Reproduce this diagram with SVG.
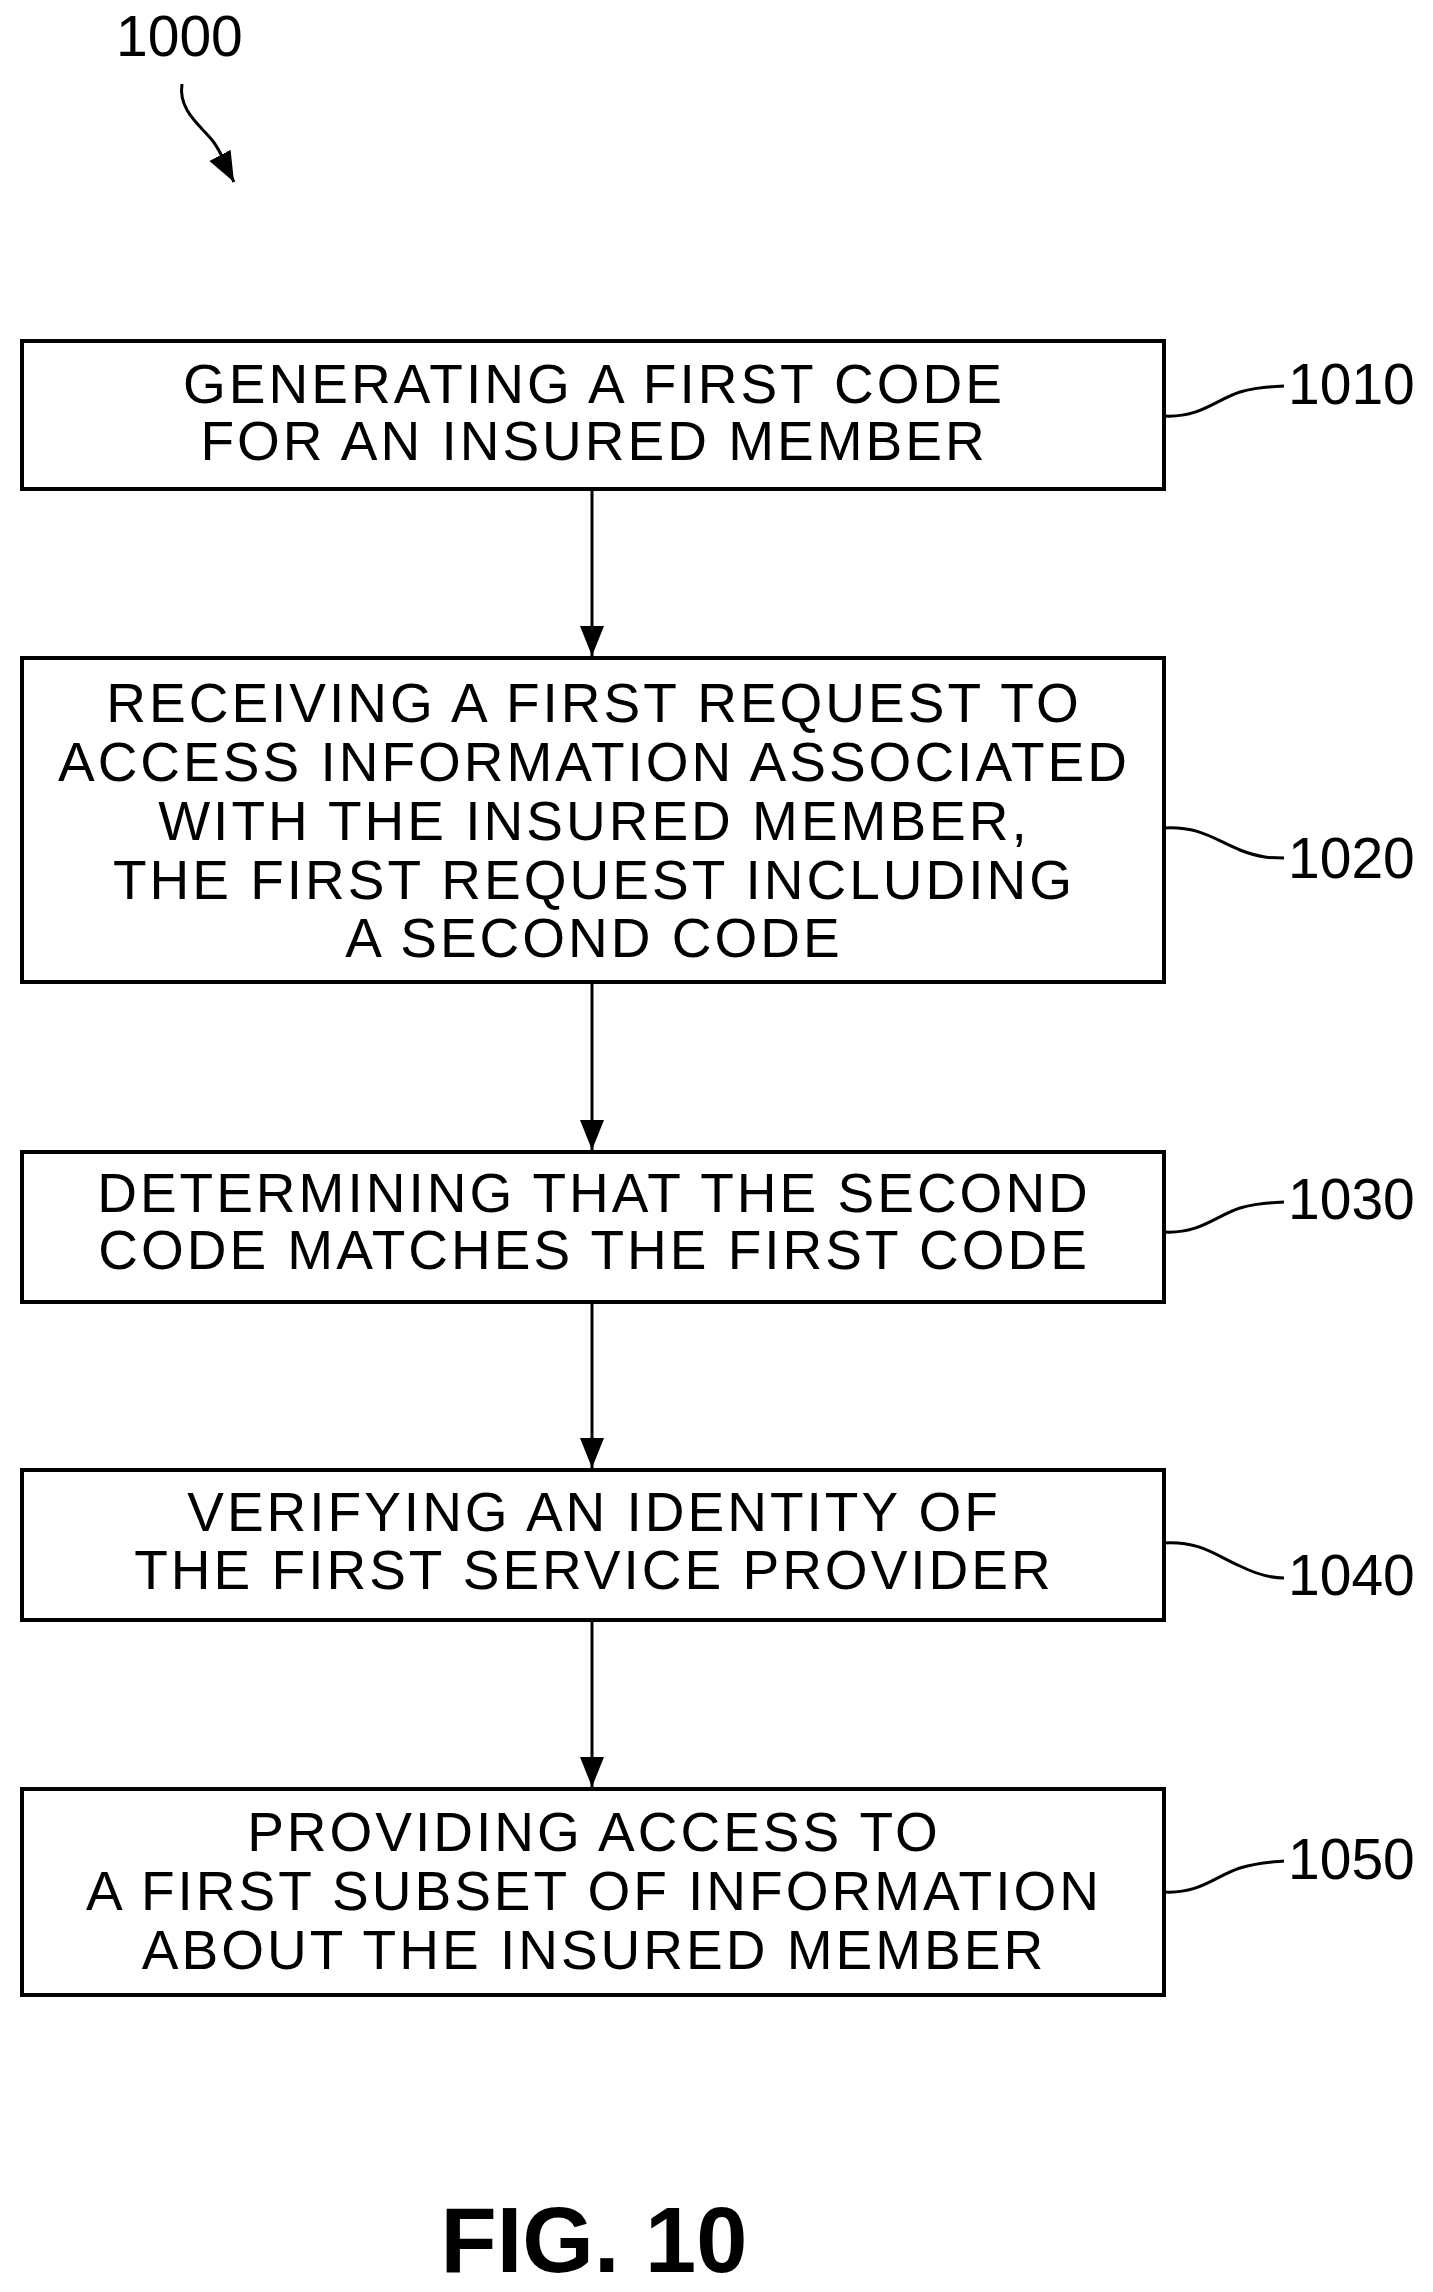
<svg xmlns="http://www.w3.org/2000/svg" width="1433" height="2292" viewBox="0 0 1433 2292">
<style>
.box{fill:#fff;stroke:#000;stroke-width:4}
.t{font-family:"Liberation Sans",Arial,sans-serif;font-size:55px;letter-spacing:3px;text-anchor:middle;fill:#000}
.lbl{font-family:"Liberation Sans",Arial,sans-serif;font-size:57px;fill:#000}
.ln{fill:none;stroke:#000;stroke-width:3}
</style>
<defs>
<marker id="ah2" viewBox="0 0 10 10" refX="10" refY="5" markerWidth="30" markerHeight="30" markerUnits="userSpaceOnUse" orient="auto">
<path d="M0,1 L10,5 L0,9 z" fill="#000"/>
</marker>
</defs>
<rect width="1433" height="2292" fill="#fff"/>
<g id="ref1000">
<text class="lbl" x="116" y="56">1000</text>
<path class="ln" d="M182,84 C178,110 200,125 212,140 C222,152 225,165 234,182" marker-end="url(#ah2)"/>
</g>
<g id="connectors">
<path class="ln" d="M592,489 V656" marker-end="url(#ah2)"/>
<path class="ln" d="M592,982 V1150" marker-end="url(#ah2)"/>
<path class="ln" d="M592,1302 V1468" marker-end="url(#ah2)"/>
<path class="ln" d="M592,1620 V1787" marker-end="url(#ah2)"/>
</g>
<g id="n1010">
<rect class="box" x="22" y="341" width="1142" height="148"/>
<text class="t" x="594" y="403">GENERATING A FIRST CODE</text>
<text class="t" x="594" y="460">FOR AN INSURED MEMBER</text>
<path class="ln" d="M1164,416 C1200,418 1215,400 1240,392 C1260,386 1272,387 1284,386"/>
<text class="lbl" x="1288" y="404">1010</text>
</g>
<g id="n1020">
<rect class="box" x="22" y="658" width="1142" height="324"/>
<text class="t" x="594" y="722">RECEIVING A FIRST REQUEST TO</text>
<text class="t" x="594" y="781">ACCESS INFORMATION ASSOCIATED</text>
<text class="t" x="594" y="840">WITH THE INSURED MEMBER,</text>
<text class="t" x="594" y="899">THE FIRST REQUEST INCLUDING</text>
<text class="t" x="594" y="957">A SECOND CODE</text>
<path class="ln" d="M1164,828 C1200,826 1215,840 1240,850 C1260,858 1272,858 1284,858"/>
<text class="lbl" x="1288" y="878">1020</text>
</g>
<g id="n1030">
<rect class="box" x="22" y="1152" width="1142" height="150"/>
<text class="t" x="594" y="1212">DETERMINING THAT THE SECOND</text>
<text class="t" x="594" y="1269">CODE MATCHES THE FIRST CODE</text>
<path class="ln" d="M1164,1232 C1200,1234 1215,1216 1240,1208 C1260,1202 1272,1203 1284,1202"/>
<text class="lbl" x="1288" y="1219">1030</text>
</g>
<g id="n1040">
<rect class="box" x="22" y="1470" width="1142" height="150"/>
<text class="t" x="594" y="1531">VERIFYING AN IDENTITY OF</text>
<text class="t" x="594" y="1589">THE FIRST SERVICE PROVIDER</text>
<path class="ln" d="M1164,1543 C1200,1541 1215,1555 1240,1566 C1260,1576 1272,1578 1284,1578"/>
<text class="lbl" x="1288" y="1595">1040</text>
</g>
<g id="n1050">
<rect class="box" x="22" y="1789" width="1142" height="206"/>
<text class="t" x="594" y="1851">PROVIDING ACCESS TO</text>
<text class="t" x="594" y="1910">A FIRST SUBSET OF INFORMATION</text>
<text class="t" x="594" y="1969">ABOUT THE INSURED MEMBER</text>
<path class="ln" d="M1164,1892 C1200,1894 1215,1876 1240,1868 C1260,1862 1272,1862 1284,1861"/>
<text class="lbl" x="1288" y="1879">1050</text>
</g>
<text x="594" y="2272" text-anchor="middle" font-family="Liberation Sans,Arial,sans-serif" font-weight="bold" font-size="92">FIG. 10</text>
</svg>
